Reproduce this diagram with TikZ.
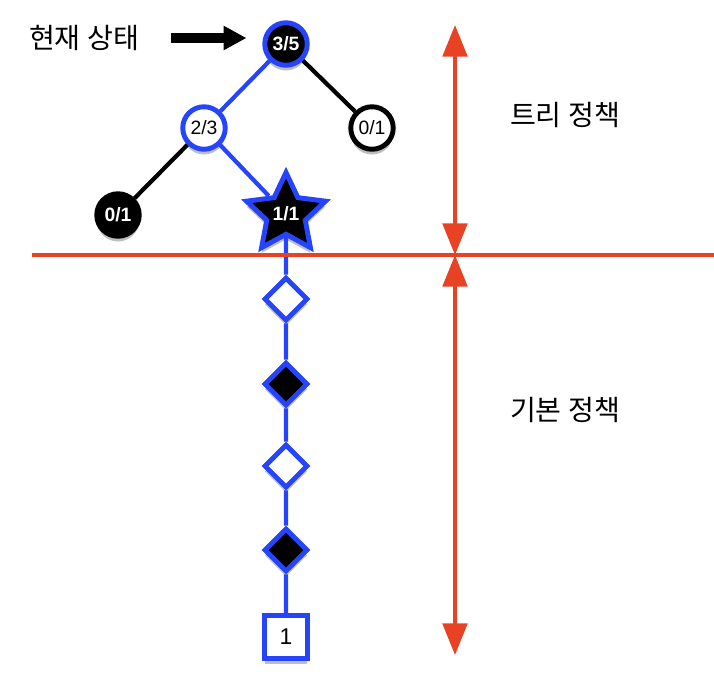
\documentclass[tikz,border=0pt]{standalone}
\usepackage{fontspec}
\setmainfont{Liberation Sans}
\newfontfamily\kofont{Noto Sans CJK KR}
\usetikzlibrary{shapes.geometric, arrows.meta, positioning, calc, shadows}
\definecolor{treeblue}{RGB}{38,68,250}
\definecolor{polred}{RGB}{232,66,36}

\begin{document}
\begin{tikzpicture}[x=0.02cm, y=-0.02cm, >=Stealth,
		font=\fontsize{11}{13}\selectfont,
		shade/.style={drop shadow={shadow xshift=0pt, shadow yshift=-3pt, opacity=0.25, fill=black}},
		mcnode/.style={circle, line width=2.8pt, minimum size=0.85cm, inner sep=0pt, shade},
		rollout/.style={diamond, draw=treeblue, line width=2.8pt, minimum size=0.88cm, inner sep=0pt, shade},
		won/.style={fill=black, text=white, font=\fontsize{11}{13}\selectfont\bfseries},
		lost/.style={fill=white, text=black},
		treeedge/.style={line width=2.4pt},
		bound/.style={draw=polred, line width=2pt},
		phase/.style={font=\kofont\fontsize{16}{18}\selectfont}]
				\useasboundingbox (0,0) rectangle (714,681);
				
				% search tree
				\node[mcnode, won, draw=treeblue] (root) at (286,44) {3/5};
				\node[mcnode, lost, draw=treeblue] (mid) at (204,128) {2/3};
				\node[mcnode, lost, draw=black] (rgt) at (372,128) {0/1};
				\node[mcnode, won, draw=black] (lft) at (118,215) {0/1};
				\node[star, star points=5, star point ratio=2.05, minimum size=1.66cm, inner sep=0pt,
					line width=2.8pt, draw=treeblue, won, shade] (leaf) at (286,214) {1/1};
				
				% default policy
				\node[rollout, fill=white] (r1) at (286,299) {};
				\node[rollout, fill=black] (r2) at (286,384) {};
				\node[rollout, fill=white] (r3) at (286,466) {};
				\node[rollout, fill=black] (r4) at (286,550) {};
				\node[rectangle, draw=treeblue, fill=white, line width=2.8pt, minimum size=0.85cm,
					inner sep=0pt, font=\fontsize{13}{15}\selectfont, shade] (res) at (286,637) {1};
				
				\draw[treeedge, treeblue] (root) -- (mid);
				\draw[treeedge] (root) -- (rgt);
				\draw[treeedge] (mid) -- (lft);
				\draw[treeedge, treeblue] (mid) -- (leaf);
				\draw[treeedge, treeblue] (leaf) -- (r1) -- (r2) -- (r3) -- (r4) -- (res);
				
				% phase boundary
				\coordinate (bndL) at (32,255);
				\coordinate (bndR) at (714,255);
				\coordinate (tipT) at (455,25);
				\coordinate (tipM) at (455,255);
				\coordinate (tipB) at (455,655);
				\draw[bound] (bndL) -- (bndR);
				\draw[bound, {Triangle[length=18pt, width=14pt]}-{Triangle[length=18pt, width=14pt]}] (tipT) -- (tipM);
				\draw[bound, {Triangle[length=18pt, width=14pt]}-{Triangle[length=18pt, width=14pt]}] (tipM) -- (tipB);
				
				\node[phase] (cur) at (84,38) {현재 상태};
				\node[phase] (treelbl) at (565,115) {트리 정책};
				\node[phase] (deflbl) at (565,410) {기본 정책};
				\draw[line width=5.5pt, -{Triangle[length=13pt, width=13pt]}, shorten <=15pt, shorten >=9pt]
					(cur.east) -- (cur.east -| root.west);
			\end{tikzpicture}
\end{document}
